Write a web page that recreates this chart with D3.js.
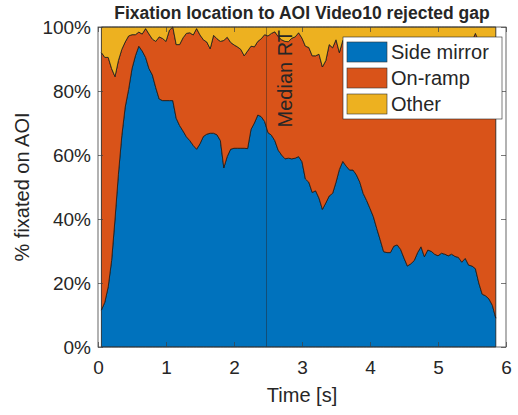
<!DOCTYPE html>
<html><head><meta charset="utf-8">
<script src="https://cdn.jsdelivr.net/npm/d3@7"></script>
<style>
body{margin:0;background:#fff}
text{font-family:"Liberation Sans",Arial,Helvetica,sans-serif;fill:#262626}
</style>
</head><body>
<svg id="chart" width="518" height="415"></svg>
<script>
// sampling times [s]
const time = d3.range(117).map(i => +(0.05 + i * 0.05).toFixed(2));
const seriesNames = ["Side mirror", "On-ramp", "Other"];
const sideMirror = [11.5,14,18.8,27,40,54,66,75,80.5,87,
  91,94,92.5,90.5,87,85,81,77.5,77,77,
  77,77,71.5,69.2,67.5,65.7,64.5,63,61.8,63.5,
  65.8,66.5,66.8,66.8,66.3,64.5,56,59.5,61.8,62.1,
  62.1,62.1,62.1,62,68,70,72.5,72,70.5,67,
  66.2,64.5,61.5,60,58.8,59,58.8,59,59.5,57.9,
  52.5,51.5,48.3,48.8,46.5,43,45,47.2,48,51.5,
  55.5,58,56.5,55.3,55.3,53.8,51.5,48,45.8,43.3,
  40.7,37,33.5,29.8,29.5,29.5,31.5,31.9,30.5,27.8,
  25.3,26,27,29.5,31.3,28.2,30.3,29.9,29,28.5,
  29.3,29,28.5,29,28.3,28,26.5,27.7,25.6,25.3,
  24.5,20,16.5,16,15,13,9];
const onRamp = [80.5,76.5,71.7,60,44.5,35.5,27,20.3,16.7,10.6,
  6.6,4.4,5.3,9,10.8,11.2,14.5,19.4,19.4,18.5,
  22,23,23,25.3,29.1,32.3,33.7,34.5,37.7,34,
  30.2,28.8,26.4,30.6,30,31,39.8,37.3,33.4,32.3,
  31.7,30.9,28.9,30.5,26,23.8,23,24.3,27.1,30.2,
  31.8,34,35.5,36,36.7,36.4,37.7,37.9,38.7,38.6,
  41.5,42.1,42.7,42.2,45,44.5,44.5,47.3,45.5,44.5,
  36.5,37.8,38,37.7,39.7,40.2,41,46,49.7,50.2,
  53.3,58,59.5,62.2,64.5,66,63,61.1,64,68.2,
  68.7,67.5,68,64.5,61.2,65.8,65.2,64.1,64,66,
  66.2,65,64.5,65.5,66.7,65.5,67.5,67.8,68.9,70.2,
  73.5,75.5,78.5,78,80.5,81.5,86];
const other = [8,9.5,9.5,13,15.5,10.5,7,4.7,2.8,2.4,
  2.4,1.6,2.2,0.5,2.2,3.8,4.5,3.1,3.6,4.5,
  1,0,5.5,5.5,3.4,2,1.8,2.5,0.5,2.5,
  4,4.7,6.8,2.6,3.7,4.5,4.2,3.2,4.8,5.6,
  6.2,7,9,7.5,6,6.2,4.5,3.7,2.4,2.8,
  2,1.5,3,4,4.5,4.6,3.5,3.1,1.8,3.5,
  6,6.4,9,9,8.5,12.5,10.5,5.5,6.5,4,
  8,4.2,5.5,7,5,6,7.5,6,4.5,6.5,
  6,5,7,8,6,4.5,5.5,7,5.5,4,
  6,6.5,5,6,7.5,6,4.5,6,7,5.5,
  4.5,6,7,5.5,5,6.5,6,4.5,5.5,4.5,
  2,4.5,5,6,4.5,5.5,5];
const xTicks = [0, 1, 2, 3, 4, 5, 6];
const yTicks = [0, 20, 40, 60, 80, 100];
const medianRT = 2.48;
const titleText = "Fixation location to AOI Video10 rejected gap";
const xLabel = "Time [s]";
const yLabel = "% fixated on AOI";
const medianLabel = "Median RT";

const colors = ["#0072BD", "#D95319", "#EDB120"];
const svg = d3.select("#chart");
const m = {l: 98, r: 506, t: 27, b: 347};
const x = d3.scaleLinear().domain([0, 6]).range([m.l, m.r]);
const y = d3.scaleLinear().domain([0, 100]).range([m.b, m.t]);

const rows = time.map((t, i) => ({t, "Side mirror": sideMirror[i], "On-ramp": onRamp[i], "Other": other[i]}));
const stacked = d3.stack().keys(seriesNames)(rows);
const area = d3.area().x(d => x(d.data.t)).y0(d => y(d[0])).y1(d => y(d[1]));

svg.append("rect").attr("x", m.l).attr("y", m.t).attr("width", m.r - m.l).attr("height", m.b - m.t).attr("fill", "#fff");

svg.append("g").selectAll("path").data(stacked).join("path")
  .attr("d", d => area(d) + "Z")
  .attr("fill", (d, i) => colors[i])
  .attr("stroke", "#1a1a1a").attr("stroke-width", 0.8).attr("stroke-linejoin", "round");

// median line
svg.append("line").attr("x1", x(medianRT)).attr("x2", x(medianRT)).attr("y1", m.t).attr("y2", m.b)
  .attr("stroke", "#262626").attr("stroke-width", 0.7).attr("opacity", 0.75);
svg.append("text").attr("transform", `translate(${x(medianRT) + 25},${m.t + 3}) rotate(-90)`)
  .attr("text-anchor", "end").style("font-size", "20px").text(medianLabel);

// axes
const axisColor = "#404040";
const gx = svg.append("g").attr("transform", `translate(0,${m.b})`)
  .call(d3.axisBottom(x).tickValues(xTicks).tickSize(-5).tickPadding(14).tickFormat(d3.format("d")));
const gy = svg.append("g").attr("transform", `translate(${m.l},0)`)
  .call(d3.axisLeft(y).tickValues(yTicks).tickSize(-5).tickPadding(7).tickFormat(d => d + "%"));
const gt = svg.append("g").attr("transform", `translate(0,${m.t})`)
  .call(d3.axisTop(x).tickValues(xTicks).tickSize(-5).tickFormat(""));
const gr = svg.append("g").attr("transform", `translate(${m.r},0)`)
  .call(d3.axisRight(y).tickValues(yTicks).tickSize(-5).tickFormat(""));
[gx, gy, gt, gr].forEach(g => {
  g.select(".domain").remove();
  g.selectAll("line").attr("stroke", axisColor).attr("stroke-width", 0.7);
  g.selectAll("text").style("font-size", "19px").attr("fill", "#262626").style("font-family", null);
});
svg.append("rect").attr("x", m.l).attr("y", m.t).attr("width", m.r - m.l).attr("height", m.b - m.t)
  .attr("fill", "none").attr("stroke", axisColor).attr("stroke-width", 0.8);

// labels
svg.append("text").attr("x", (m.l + m.r) / 2).attr("y", 19).attr("text-anchor", "middle")
  .style("font-size", "17.5px").style("font-weight", "bold").attr("fill", "#000").text(titleText);
svg.append("text").attr("x", (m.l + m.r) / 2).attr("y", 402).attr("text-anchor", "middle")
  .style("font-size", "20px").text(xLabel);
svg.append("text").attr("transform", `translate(29,${(m.t + m.b) / 2}) rotate(-90)`).attr("text-anchor", "middle")
  .style("font-size", "20px").text(yLabel);

// legend
const lg = svg.append("g").attr("transform", "translate(343,37)");
lg.append("rect").attr("width", 159).attr("height", 82).attr("fill", "#fff").attr("stroke", "#262626").attr("stroke-width", 0.6);
seriesNames.forEach((name, i) => {
  lg.append("rect").attr("x", 4).attr("y", 5 + i * 26).attr("width", 40).attr("height", 20)
    .attr("fill", colors[i]).attr("stroke", "#333").attr("stroke-width", 0.6);
  lg.append("text").attr("x", 48).attr("y", 5 + i * 26 + 17).style("font-size", "20px").text(name);
});
</script>
</body></html>
